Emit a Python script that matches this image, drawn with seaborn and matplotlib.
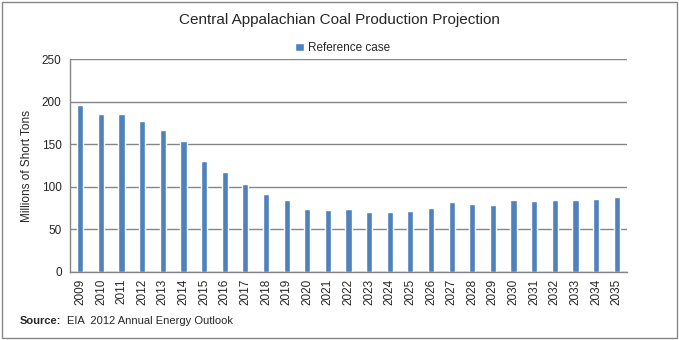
import matplotlib
matplotlib.use("Agg")
import matplotlib.pyplot as plt
import seaborn as sns
import pandas as pd
from matplotlib.patches import Rectangle

years = [str(y) for y in range(2009, 2036)]
values = [196.3, 185.7, 185.7, 177.5, 166.9, 154.0, 130.5, 117.6, 103.4, 91.7,
          84.6, 74.1, 72.9, 74.1, 70.5, 70.5, 71.7, 75.2, 82.3, 79.9,
          78.8, 84.6, 83.5, 84.6, 84.6, 85.8, 88.2]
series_name = "Reference case"
yticks = [0, 50, 100, 150, 200, 250]

sns.set_theme(style="white")
plt.rcParams['font.family'] = ['Liberation Sans', 'DejaVu Sans']

df = pd.DataFrame({"Year": years, "Value": values, "Series": series_name})

fig = plt.figure(figsize=(6.79, 3.40), dpi=100)
ax = fig.add_axes([70/679, 1 - 272/340, (627-70)/679, (272-59)/340])

sns.barplot(data=df, x="Year", y="Value", hue="Series", ax=ax,
            palette=["#4F81BD"], width=0.3, saturation=1, legend=True)

ax.set_ylim(0, 250)
ax.set_yticks(yticks)
ax.set_xlim(-0.5, len(years) - 0.5)
ax.yaxis.grid(True, color="#868686", linewidth=1)
ax.set_axisbelow(True)
for s in ["top", "right"]:
    ax.spines[s].set_visible(False)
for s in ["left", "bottom"]:
    ax.spines[s].set_color("#868686")
    ax.spines[s].set_linewidth(1)
ax.tick_params(axis="x", rotation=90, labelsize=8.5, length=0, pad=5)
ax.tick_params(axis="y", labelsize=8.5, length=0, pad=6)
ax.set_xlabel("")
ax.set_ylabel("Millions of Short Tons", fontsize=8.5, labelpad=6)

leg = ax.legend(loc="lower center", bbox_to_anchor=(0.49, 1.0), frameon=False,
                fontsize=8.5, handlelength=0.7, handleheight=0.7, handletextpad=0.4,
                borderaxespad=0.0)

fig.text(0.5, 1 - 20/340, "Central Appalachian Coal Production Projection",
         ha="center", va="center", fontsize=11)
fig.text(20/679, 1 - 321/340, "Source:", ha="left", va="center",
         fontsize=8, fontweight="bold")
fig.text(67/679, 1 - 321/340, "EIA  2012 Annual Energy Outlook", ha="left",
         va="center", fontsize=8)

fig.patches.append(Rectangle((2/679, 2/340), 1 - 4/679, 1 - 4/340,
                             transform=fig.transFigure, fill=False,
                             edgecolor="#868686", linewidth=1))

fig.savefig("out.png", dpi=100)
